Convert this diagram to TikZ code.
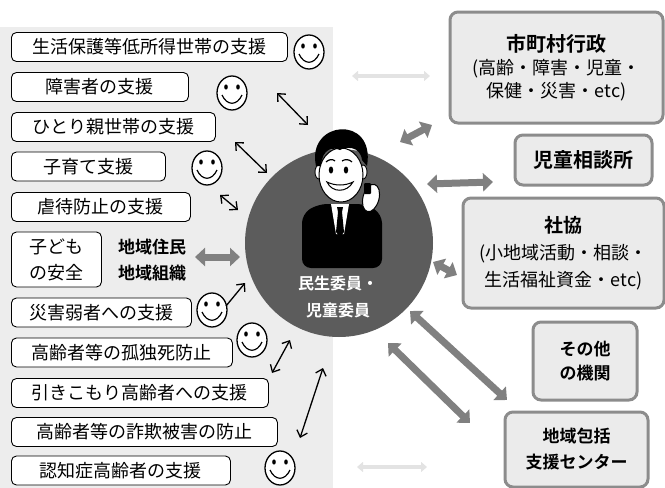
\documentclass[tikz,border=0pt]{standalone}
\usepackage{fontspec}
\setmainfont{Noto Sans CJK JP}[BoldFont={Noto Sans CJK JP Bold}]
\usetikzlibrary{arrows.meta}

\tikzset{
  lbox/.style={draw, line width=0.9pt, rounded corners=5pt, fill=white, anchor=west,
    minimum height=29pt, inner sep=0pt, align=center, font=\fontsize{18}{26}\selectfont},
  rbox/.style={draw=black!45, line width=3pt, rounded corners=8pt, fill=gray!16,
    inner sep=0pt, align=center, font=\fontsize{18}{23}\selectfont},
  thin arrow/.style={line width=1.3pt,
    {Straight Barb[length=6pt,width=11pt]}-{Straight Barb[length=6pt,width=11pt]}},
  fat arrow/.style={line width=7pt, black!50,
    {Triangle[length=10pt,width=18pt]}-{Triangle[length=10pt,width=18pt]}},
  faint arrow/.style={line width=4pt, gray!22,
    {Triangle[length=6pt,width=10pt]}-{Triangle[length=6pt,width=10pt]}},
  smiley/.pic={
    \draw[line width=1.3pt, fill=white] (0,0) ellipse [x radius=15, y radius=17];
    \fill (-6,-6) ellipse [x radius=1.8, y radius=2.6];
    \fill (6,-6) ellipse [x radius=1.8, y radius=2.6];
    \draw[line width=1.2pt] (-10,2) .. controls (-5,13) and (5,13) .. (10,2);
  }
}

\begin{document}
\begin{tikzpicture}[x=1pt,y=-1pt]
\useasboundingbox (0,0) rectangle (665,488);

% dotted backdrop behind the left column
\fill[gray!14] (0,27) rectangle (333,488);

% the volunteer in the middle
\node[circle, fill=black!64, minimum size=188pt, inner sep=0pt] (iin) at (339,243) {};
\fill[rounded corners=9pt] (302,268) -- (302,214) -- (318,204) -- (366,204) -- (382,214) -- (382,268) -- cycle;
\fill[white] (331,204) -- (349,204) -- (344,234) -- (336,234) -- cycle;
\fill (337,207) -- (343,207) -- (342,212) -- (344,232) -- (340,237) -- (336,232) -- (338,212) -- cycle;
\draw[fill=white, line width=0.9pt] (319,172) ellipse [x radius=4, y radius=7];
\draw[fill=white, line width=0.9pt] (363,172) ellipse [x radius=4, y radius=7];
\draw[fill=white, line width=1pt] (341,175) ellipse [x radius=22, y radius=27];
\fill (316,166) .. controls (306,120) and (376,114) .. (367,166) -- (362,160)
  .. controls (360,145) and (345,147) .. (340,150) .. controls (333,147) and (322,148) .. (321,166) -- cycle;
\fill (331,170) ellipse [x radius=2.2, y radius=3.5];
\fill (346,170) ellipse [x radius=2.2, y radius=3.5];
\draw[line width=1.2pt] (326,162) .. controls (329,159) and (333,159) .. (335,161);
\draw[line width=1.2pt] (342,161) .. controls (345,159) and (349,159) .. (352,162);
\draw[fill=white, line width=1pt] (327,182) .. controls (332,193) and (347,193) .. (353,182)
  .. controls (345,186) and (335,186) .. cycle;
\draw[fill=white, line width=1pt, rotate around={-15:(371,198)}] (371,198) ellipse [x radius=8, y radius=14];
\fill[rounded corners=1pt] (364,183) rectangle (371,194);
\node[text=white, font=\fontsize{16}{27}\selectfont\bfseries, align=center] (iinlabel) at (338,297)
  {民生委員・\\児童委員};

% support fields on the left
\node[lbox, minimum width=276pt] (seikatsu) at (11,47) {生活保護等低所得世帯の支援};
\node[lbox, minimum width=177pt] (shogai) at (11,87) {障害者の支援};
\node[lbox, minimum width=204pt] (hitorioya) at (11,127) {ひとり親世帯の支援};
\node[lbox, minimum width=154pt] (kosodate) at (11,166.5) {子育て支援};
\node[lbox, minimum width=179pt] (gyakutai) at (11,207) {虐待防止の支援};
\node[lbox, minimum width=90pt, minimum height=55pt] (anzen) at (11,259.5) {子ども\\の安全};
\node[font=\fontsize{17}{26}\selectfont\bfseries, align=center] (chiiki) at (152,260) {地域住民\\地域組織};
\node[lbox, minimum width=180pt] (saigai) at (11,312.5) {災害弱者への支援};
\node[lbox, minimum width=221pt] (kodokushi) at (11,352.5) {高齢者等の孤独死防止};
\node[lbox, minimum width=257pt] (hikikomori) at (11,393) {引きこもり高齢者への支援};
\node[lbox, minimum width=266pt] (sagi) at (11,432) {高齢者等の詐欺被害の防止};
\node[lbox, minimum width=219pt] (ninchisho) at (11,470.5) {認知症高齢者の支援};

% smiling faces
\pic (s1) at (309,52) {smiley};
\pic (s2) at (232,93) {smiley};
\pic (s3) at (207,168) {smiley};
\pic (s4) at (212,310) {smiley};
\pic (s5) at (252,340) {smiley};
\pic (s6) at (280,468) {smiley};

% agencies on the right
\node[rbox, minimum width=213pt, minimum height=111pt] (gyosei) at (556.5,67.5)
  {{\fontsize{20}{23}\selectfont\bfseries 市町村行政}\\(高齢・障害・児童・\\保健・災害・etc)};
\node[rbox, minimum width=137pt, minimum height=50pt, font=\fontsize{20}{23}\selectfont\bfseries] (jidosodan) at (583.5,160) {児童相談所};
\node[rbox, minimum width=201pt, minimum height=110pt, font=\fontsize{18}{27}\selectfont] (shakyo) at (563.5,253)
  {{\fontsize{19}{27}\selectfont\bfseries 社協}\\(小地域活動・相談・\\生活福祉資金・etc)};
\node[rbox, minimum width=104pt, minimum height=78pt, font=\fontsize{17}{24}\selectfont\bfseries] (sonota) at (585,361) {その他\\の機関};
\node[rbox, minimum width=143pt, minimum height=75pt, font=\fontsize{17}{26}\selectfont\bfseries] (hokatsu) at (576.5,449.5) {地域包括\\支援センター};

% arrow ends
\coordinate (a1s) at (277,93);  \coordinate (a1e) at (308,125);
\coordinate (a2s) at (235,142); \coordinate (a2e) at (267,173);
\coordinate (a3s) at (220,195); \coordinate (a3e) at (238,210);
\coordinate (a4s) at (226,306); \coordinate (a4e) at (245,283);
\coordinate (a5s) at (272,373); \coordinate (a5e) at (290,340);
\coordinate (a6s) at (300,438); \coordinate (a6e) at (323,368);
\coordinate (g0s) at (195,257); \coordinate (g0e) at (240,257);
\coordinate (g1s) at (400,142); \coordinate (g1e) at (432,125);
\coordinate (g2s) at (427,184); \coordinate (g2e) at (493,182);
\coordinate (g3s) at (433,262); \coordinate (g3e) at (457,275);
\coordinate (g4s) at (410,311); \coordinate (g4e) at (507,400);
\coordinate (g5s) at (388,343); \coordinate (g5e) at (470,423);
\coordinate (f1s) at (352,76);  \coordinate (f1e) at (430,76);
\coordinate (f2s) at (357,467); \coordinate (f2e) at (427,467);

\draw[thin arrow] (a1s) -- (a1e);
\draw[thin arrow] (a2s) -- (a2e);
\draw[thin arrow] (a3s) -- (a3e);
\draw[line width=1.3pt, -{Straight Barb[length=6pt,width=11pt]}] (a4s) -- (a4e);
\draw[thin arrow] (a5s) -- (a5e);
\draw[thin arrow] (a6s) -- (a6e);

\draw[fat arrow] (g0s) -- (g0e);
\draw[fat arrow] (g1s) -- (g1e);
\draw[fat arrow] (g2s) -- (g2e);
\draw[fat arrow] (g3s) -- (g3e);
\draw[fat arrow] (g4s) -- (g4e);
\draw[fat arrow] (g5s) -- (g5e);

\draw[faint arrow] (f1s) -- (f1e);
\draw[faint arrow] (f2s) -- (f2e);
\end{tikzpicture}
\end{document}
